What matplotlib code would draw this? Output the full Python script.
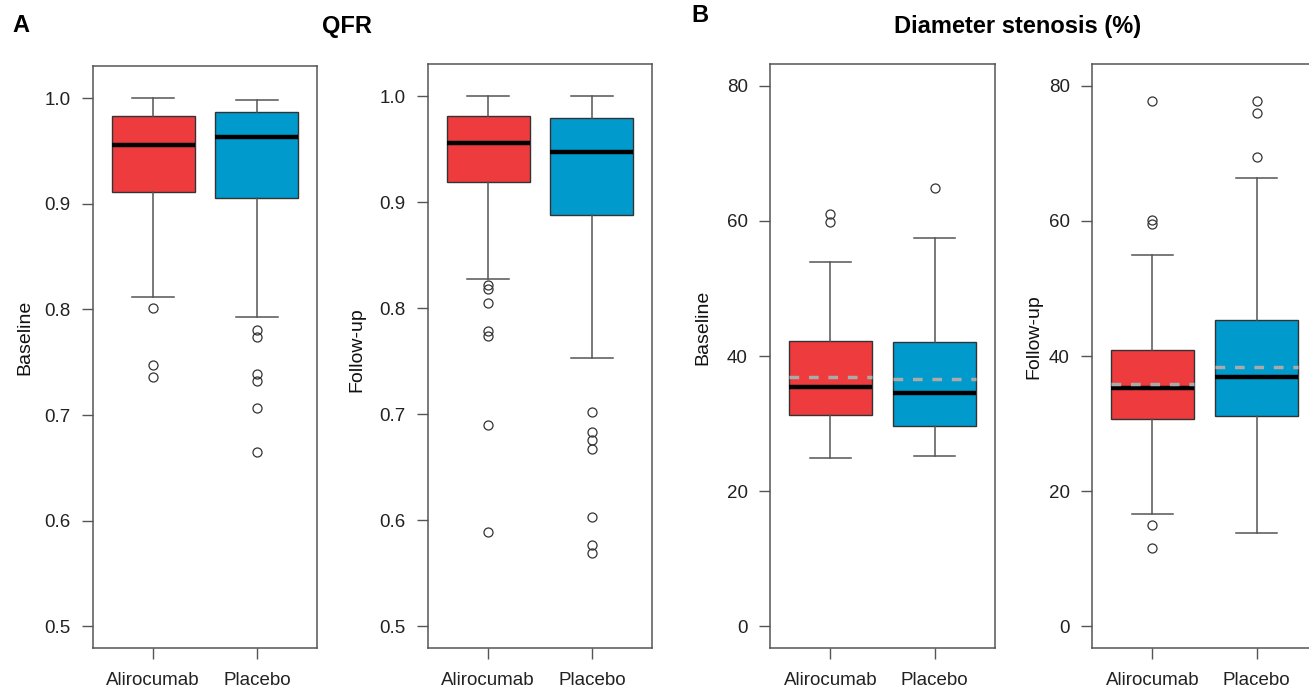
import matplotlib
matplotlib.use("Agg")
import matplotlib.pyplot as plt

# ===== data =====
groups = ["Alirocumab", "Placebo"]

# QFR baseline: whislo, q1, median, q3, whishi
qfr_base_ali = [0.812, 0.911, 0.9555, 0.9835, 1.000]
qfr_base_pla = [0.793, 0.9055, 0.963, 0.9867, 0.998]
qfr_base_ali_out = [0.801, 0.747, 0.736]
qfr_base_pla_out = [0.781, 0.7735, 0.739, 0.732, 0.707, 0.665]

# QFR follow-up
qfr_fu_ali = [0.828, 0.919, 0.956, 0.981, 1.000]
qfr_fu_pla = [0.753, 0.888, 0.947, 0.9795, 1.000]
qfr_fu_ali_out = [0.822, 0.818, 0.805, 0.779, 0.774, 0.690, 0.589]
qfr_fu_pla_out = [0.702, 0.683, 0.676, 0.667, 0.603, 0.577, 0.569]

# Diameter stenosis baseline
ds_base_ali = [24.9, 31.2, 35.4, 42.15, 53.9]
ds_base_pla = [25.2, 29.7, 34.5, 42.0, 57.4]
ds_base_mean = [36.9, 36.6]
ds_base_ali_out = [61.0, 59.8]
ds_base_pla_out = [64.8]

# Diameter stenosis follow-up
ds_fu_ali = [16.6, 30.7, 35.3, 40.9, 55.0]
ds_fu_pla = [13.8, 31.1, 36.9, 45.3, 66.4]
ds_fu_mean = [35.9, 38.3]
ds_fu_ali_out = [77.7, 60.1, 59.5, 15.0, 11.6]
ds_fu_pla_out = [77.7, 75.9, 69.4]

RED = "#EE3B3D"
BLUE = "#009ACD"
FRAME = "#555555"

W, H = 1309, 690
plt.rcParams["font.family"] = ["Liberation Sans", "DejaVu Sans"]
fig = plt.figure(figsize=(W / 100, H / 100), dpi=100)


def px_axes(x0, x1, y0, y1):
    return fig.add_axes([x0 / W, (H - y1) / H, (x1 - x0) / W, (y1 - y0) / H])


def make_stats(s, out, mean=None):
    d = dict(whislo=s[0], q1=s[1], med=s[2], q3=s[3], whishi=s[4], fliers=out)
    if mean is not None:
        d["mean"] = mean
    return d


def draw_panel(ax, stats, ylim, yticks, fmt, show_mean=False):
    bp = ax.bxp(stats, positions=[1, 2], widths=0.8, patch_artist=True,
                showmeans=show_mean, meanline=True,
                boxprops=dict(edgecolor="#333333", linewidth=1.0),
                medianprops=dict(color="black", linewidth=3.2, solid_capstyle="butt"),
                whiskerprops=dict(color="#555555", linewidth=1.1),
                capprops=dict(color="#555555", linewidth=1.1),
                capwidths=0.4,
                flierprops=dict(marker="o", markersize=6.5, markerfacecolor="none",
                                markeredgecolor="#333333", markeredgewidth=0.9),
                meanprops=dict(color="#AAAAAA", linewidth=2.5, linestyle=(0, (2.8, 2.8))))
    for patch, c in zip(bp["boxes"], [RED, BLUE]):
        patch.set_facecolor(c)
    ax.set_xlim(0.42, 2.58)
    ax.set_ylim(*ylim)
    ax.set_yticks(yticks)
    ax.set_yticklabels([fmt.format(t) for t in yticks])
    ax.set_xticks([1, 2])
    ax.set_xticklabels(groups)
    for sp in ax.spines.values():
        sp.set_color(FRAME)
        sp.set_linewidth(1.1)
    ax.tick_params(axis="y", length=8, width=1.0, color=FRAME, pad=8,
                   labelsize=13.5, labelcolor="#222222")
    ax.tick_params(axis="x", length=8, width=1.0, color=FRAME, pad=9,
                   labelsize=13.5, labelcolor="#222222")


qfr_lim = (0.4796, 1.0304)
qfr_ticks = [0.5, 0.6, 0.7, 0.8, 0.9, 1.0]
ds_lim = (-3.2, 83.2)
ds_ticks = [0, 20, 40, 60, 80]

ax1 = px_axes(93, 317, 66, 648)
draw_panel(ax1, [make_stats(qfr_base_ali, qfr_base_ali_out),
                 make_stats(qfr_base_pla, qfr_base_pla_out)],
           qfr_lim, qfr_ticks, "{:.1f}")

ax2 = px_axes(428, 652, 64, 648)
draw_panel(ax2, [make_stats(qfr_fu_ali, qfr_fu_ali_out),
                 make_stats(qfr_fu_pla, qfr_fu_pla_out)],
           qfr_lim, qfr_ticks, "{:.1f}")

ax3 = px_axes(770, 995, 64, 648)
draw_panel(ax3, [make_stats(ds_base_ali, ds_base_ali_out, ds_base_mean[0]),
                 make_stats(ds_base_pla, ds_base_pla_out, ds_base_mean[1])],
           ds_lim, ds_ticks, "{:d}", show_mean=True)

ax4 = px_axes(1092, 1317, 64, 648)
draw_panel(ax4, [make_stats(ds_fu_ali, ds_fu_ali_out, ds_fu_mean[0]),
                 make_stats(ds_fu_pla, ds_fu_pla_out, ds_fu_mean[1])],
           ds_lim, ds_ticks, "{:d}", show_mean=True)

# y labels
for x, y, lab in [(25, 337, "Baseline"), (357, 350, "Follow-up"),
                  (703, 327, "Baseline"), (1034, 337, "Follow-up")]:
    fig.text(x / W, 1 - y / H, lab, rotation=90, ha="center", va="center",
             fontsize=14, color="#111111")

# titles and panel letters
fig.text(21 / W, 1 - 26 / H, "A", ha="center", va="center", fontsize=17, fontweight="bold")
fig.text(347 / W, 1 - 27 / H, "QFR", ha="center", va="center", fontsize=17, fontweight="bold")
fig.text(700 / W, 1 - 15 / H, "B", ha="center", va="center", fontsize=17, fontweight="bold")
fig.text(1018 / W, 1 - 27 / H, "Diameter stenosis (%)", ha="center", va="center",
         fontsize=17, fontweight="bold")

fig.savefig("out.png", dpi=100)
